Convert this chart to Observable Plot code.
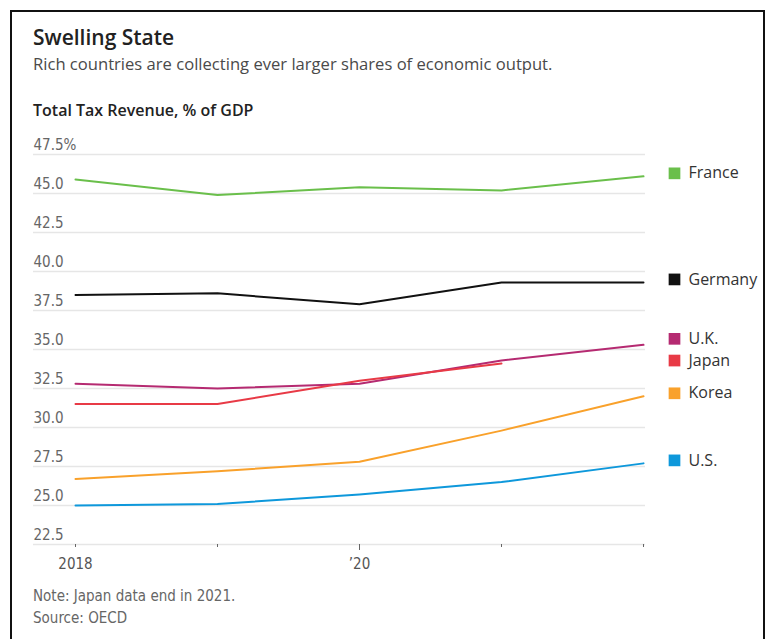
<!DOCTYPE html>
<html><head><meta charset="utf-8">
<script src="https://cdn.jsdelivr.net/npm/d3@7"></script>
<script src="https://cdn.jsdelivr.net/npm/@observablehq/plot@0.6"></script>
<style>
body{margin:0;background:#fff;}
#frame{position:absolute;left:10px;top:10px;width:751px;height:650px;border:2px solid #111;border-bottom:none;overflow:hidden;}
.t{position:absolute;left:21px;white-space:nowrap;}
#title{top:11px;font:600 21px "Open Sans",sans-serif;color:#222;}
#sub{top:40px;font:16.6px "Open Sans",sans-serif;color:#4a4a4a;}
#lab{top:87px;font:600 16px "Open Sans",sans-serif;color:#222;}
#note{top:575px;font:15px "Liberation Sans Narrow","DejaVu Sans Condensed",sans-serif;color:#666;}
#src{top:597px;font:15px "Liberation Sans Narrow","DejaVu Sans Condensed",sans-serif;color:#666;}
#chart{position:absolute;left:0;top:118px;}
</style></head>
<body>
<div id="frame">
  <div class="t" id="title">Swelling State</div>
  <div class="t" id="sub">Rich countries are collecting ever larger shares of economic output.</div>
  <div class="t" id="lab">Total Tax Revenue, % of GDP</div>
  <div id="chart"></div>
  <div class="t" id="note">Note: Japan data end in 2021.</div>
  <div class="t" id="src">Source: OECD</div>
</div>
<script>
const years = [2018, 2019, 2020, 2021, 2022];
const countries = ["France", "Germany", "U.K.", "Japan", "Korea", "U.S."];
const colors = ["#6abf4b", "#111111", "#b52a71", "#e83a46", "#f9a12b", "#0e98db"];
const france  = [45.9, 44.9, 45.4, 45.2, 46.1];
const germany = [38.5, 38.6, 37.9, 39.3, 39.3];
const uk      = [32.8, 32.5, 32.8, 34.3, 35.3];
const japan   = [31.5, 31.5, 33.0, 34.1];
const korea   = [26.7, 27.2, 27.8, 29.8, 32.0];
const us      = [25.0, 25.1, 25.7, 26.5, 27.7];
const yTicks = [22.5, 25, 27.5, 30, 32.5, 35, 37.5, 40, 42.5, 45, 47.5];
const xLabels = {2018: "2018", 2020: "\u201920"};

const series = [france, germany, uk, japan, korea, us];
const rows = countries.flatMap((c, i) => series[i].map((v, j) => ({country: c, year: years[j], value: v})));
const last = countries.map((c, i) => ({country: c, value: series[i][series[i].length - 1]}));

const legendFont = "'Open Sans', sans-serif";
function legend(data, dy) {
  return [
    Plot.dot(data, {y: "value", frameAnchor: "right", dx: 31, dy, symbol: "square", r: 6.6, fill: "country", stroke: null}),
    Plot.text(data, {y: "value", text: "country", frameAnchor: "right", textAnchor: "start", dx: 45, dy, fill: "#333", fontSize: 16, fontFamily: legendFont})
  ];
}

const chart = Plot.plot({
  width: 751, height: 450,
  marginTop: 24, marginBottom: 36, marginLeft: 63, marginRight: 120,
  x: {domain: [2018, 2022], axis: null},
  y: {domain: [22.5, 47.5], axis: null},
  color: {domain: countries, range: colors},
  style: {fontFamily: "'Liberation Sans Narrow','DejaVu Sans Condensed',sans-serif", fontSize: "15px", color: "#666", background: "transparent"},
  marks: [
    Plot.ruleY(yTicks, {stroke: "#e6e6e6", strokeWidth: 1.5, insetLeft: -42, insetRight: -2}),
    Plot.text(yTicks, {y: d => d, text: d => d === 47.5 ? "47.5%" : d.toFixed(1), frameAnchor: "left", textAnchor: "start", dx: -42, dy: -9, fill: "#666"}),
    Plot.axisX({ticks: years, tickSize: 3, tickPadding: 11, label: null, tickFormat: d => xLabels[d] || "", stroke: "#666", fill: "#555"}),
    Plot.axisX({ticks: [2020], tickSize: 6, label: null, tickFormat: () => "", stroke: "#666"}),
    Plot.line(rows, {x: "year", y: "value", z: "country", stroke: "country", strokeWidth: 2}),
    ...legend(last.filter(d => d.country !== "U.K."), -3),
    ...legend(last.filter(d => d.country === "U.K."), -6)
  ]
});
document.getElementById("chart").appendChild(chart);
</script>
</body></html>
